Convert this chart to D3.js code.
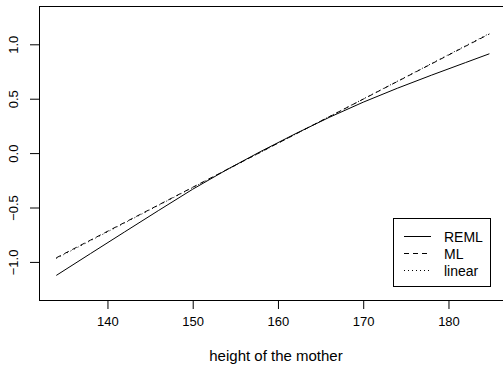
<!DOCTYPE html>
<html>
<head>
<meta charset="utf-8">
<script src="https://cdn.jsdelivr.net/npm/d3@7"></script>
<style>
body { margin: 0; background: #fff; }
svg { display: block; font-family: "Liberation Sans", Arial, sans-serif; }
</style>
</head>
<body>
<svg id="chart"></svg>
<script>
// heights of the mother where the fitted curves were read
const heights = [134, 138, 142, 146, 150, 154, 158, 162, 166, 170, 174, 178, 182, 184.8]
const remlValues = [-1.124, -0.924, -0.725, -0.527, -0.332, -0.152, 0.016, 0.176, 0.328, 0.468, 0.596, 0.716, 0.832, 0.913]
const mlValues = [-0.962, -0.800, -0.638, -0.476, -0.314, -0.152, 0.010, 0.172, 0.334, 0.496, 0.658, 0.820, 0.982, 1.095]
const linearHeights = [134, 184.8]
const linearValues = [-0.968, 1.100]

const xTicks = [140, 150, 160, 170, 180]
const yTicks = [-1.0, -0.5, 0.0, 0.5, 1.0]
const legendLabels = ["REML", "ML", "linear"]
const xLabel = "height of the mother"

function drawChart() {
const svgWidth = 503
const svgHeight = 368
const plot = ({left: 39, top: 6, right: 506.7, bottom: 300})

const svg = d3.select("#chart")
    .attr("width", svgWidth)
    .attr("height", svgHeight)

const xScale = d3.scaleLinear()
    .domain([131.97, 186.83])
    .range([plot.left, plot.right])

const yScale = d3.scaleLinear()
    .domain([-1.35, 1.352])
    .range([plot.bottom, plot.top])

// x axis (R style: ticks hang below the box)
const xAxis = svg.append("g")
    .attr("transform", `translate(0, ${plot.bottom})`)
    .call(d3.axisBottom(xScale).tickValues(xTicks).tickFormat(d3.format("d")).tickSize(9).tickPadding(8))
xAxis.select(".domain").remove()
xAxis.selectAll("text").attr("font-size", 13).attr("fill", "#000").attr("font-family", "Liberation Sans, Arial, sans-serif")

// y axis with rotated labels
const yAxis = svg.append("g")
    .attr("transform", `translate(${plot.left}, 0)`)
    .call(d3.axisLeft(yScale).tickValues(yTicks).tickFormat(d3.format(".1f")).tickSize(9))
yAxis.select(".domain").remove()
yAxis.selectAll("text")
    .attr("font-size", 13)
    .attr("fill", "#000")
    .attr("font-family", "Liberation Sans, Arial, sans-serif")
    .attr("text-anchor", "middle")
    .attr("dy", null)
    .attr("x", null)
    .attr("dominant-baseline", "central")
    .attr("transform", d => `translate(${13 - plot.left}, 0) rotate(-90)`)

// box around plotting region
svg.append("rect")
    .attr("x", plot.left + 0.5)
    .attr("y", plot.top + 0.5)
    .attr("width", plot.right - plot.left)
    .attr("height", plot.bottom - plot.top)
    .attr("fill", "none")
    .attr("stroke", "#000")

// axis title
svg.append("text")
    .attr("x", 276)
    .attr("y", 355)
    .attr("text-anchor", "middle")
    .attr("dominant-baseline", "central")
    .attr("font-size", 15)
    .text(xLabel)

const line = d3.line()
    .x(d => xScale(d[0]))
    .y(d => yScale(d[1]))

const series = [
    {points: d3.zip(heights, remlValues), dash: null},
    {points: d3.zip(heights, mlValues), dash: "5,4"},
    {points: d3.zip(linearHeights, linearValues), dash: "1,3"}
]

svg.append("g").selectAll("path")
    .data(series)
    .join("path")
    .attr("d", d => line(d.points))
    .attr("fill", "none")
    .attr("stroke", "#000")
    .attr("stroke-width", 1)
    .attr("stroke-dasharray", d => d.dash)

// legend
const legend = svg.append("g")
legend.append("rect")
    .attr("x", 393.5)
    .attr("y", 218.5)
    .attr("width", 97)
    .attr("height", 68)
    .attr("fill", "#fff")
    .attr("stroke", "#000")

const rows = legend.selectAll("g.row")
    .data(legendLabels)
    .join("g")
    .attr("class", "row")
    .attr("transform", (d, i) => `translate(0, ${236.5 + i * 17})`)

rows.append("line")
    .attr("x1", 404)
    .attr("x2", 431)
    .attr("stroke", "#000")
    .attr("stroke-dasharray", (d, i) => series[i].dash)

rows.append("text")
    .attr("x", 444)
    .attr("dominant-baseline", "central")
    .attr("font-size", 14)
    .text(d => d)
}

drawChart()
</script>
</body>
</html>
